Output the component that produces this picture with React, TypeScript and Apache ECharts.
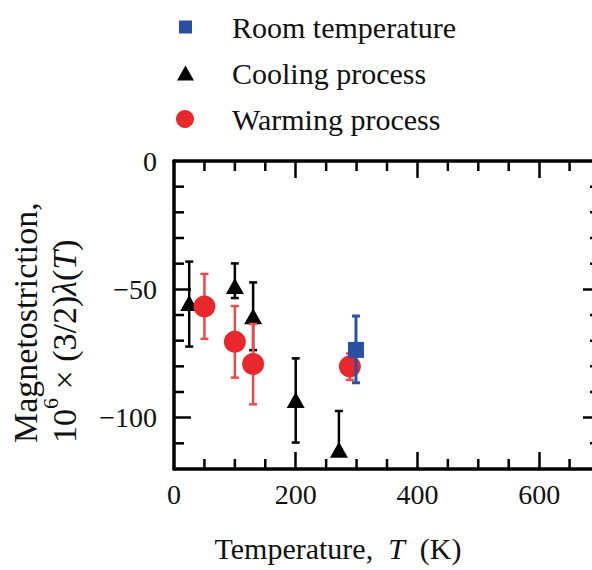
import React, { useEffect, useRef } from "react";
import * as echarts from "echarts";

// ---- data ----
const coolT = [25, 100, 130, 200, 271];
const coolV = [-55.3, -48.7, -60.5, -93.1, -112.5];
const coolHi = [-39.2, -39.9, -47.3, -76.9, -97.4];
const coolLo = [-72.3, -53.4, -73.7, -109.7, -112.5];

const warmT = [50, 100, 130, 289];
const warmV = [-56.7, -70.4, -79.1, -80.1];
const warmHi = [-44, -56.5, -63.5, -75];
const warmLo = [-69.3, -84.4, -94.8, -85.3];

const roomT = [299];
const roomV = [-73.6];
const roomHi = [-60.4];
const roomLo = [-86.4];

const xLabels = [0, 200, 400, 600];
const xMajor = [200, 400, 600];
const xMinor = [50, 100, 150, 250, 300, 350, 450, 500, 550, 650];
const yLabels = [0, -50, -100];
const yMajor = [-50, -100];
const yMinor = [-10, -20, -30, -40, -60, -70, -80, -90, -110];

const X_MIN = 0;
const X_MAX = 700;
const Y_MIN = -120;
const Y_MAX = 0;

const SERIF = '"Liberation Serif", "Times New Roman", serif';
const INK = "#111";
const MINOR_LEN = 10;
const MAJOR_LEN = 17;

function errSeries(name: string, data: number[][], color: string, width: number, cap: number, z: number) {
  return {
    type: "custom",
    name,
    z,
    data,
    encode: { x: 0, y: [1, 2] },
    renderItem: (_p: any, api: any) => {
      const x = api.value(0);
      const lo = api.value(1);
      const hi = api.value(2);
      const a = api.coord([x, hi]);
      const b = api.coord([x, lo]);
      const st = { stroke: color, lineWidth: width };
      return {
        type: "group",
        children: [
          { type: "line", shape: { x1: a[0], y1: a[1], x2: b[0], y2: b[1] }, style: st },
          { type: "line", shape: { x1: a[0] - cap, y1: a[1], x2: a[0] + cap, y2: a[1] }, style: st },
          { type: "line", shape: { x1: b[0] - cap, y1: b[1], x2: b[0] + cap, y2: b[1] }, style: st },
        ],
      };
    },
  };
}

// minor ticks on all four sides: one group per tick value, through the axes' scales
function minorTicks() {
  const data = [
    ...xMinor.map((v) => [v, 0, 0]),
    ...yMinor.map((v) => [0, v, 1]),
  ];
  return {
    type: "custom",
    name: "minor-ticks",
    z: 8,
    data,
    encode: { x: 0, y: 1 },
    renderItem: (_p: any, api: any) => {
      const kind = api.value(2);
      const st = { stroke: "#000", lineWidth: 2.5 };
      if (kind === 0) {
        const v = api.value(0);
        const b = api.coord([v, Y_MIN]);
        const t = api.coord([v, Y_MAX]);
        return {
          type: "group",
          children: [
            { type: "line", shape: { x1: b[0], y1: b[1], x2: b[0], y2: b[1] - MINOR_LEN }, style: st },
            { type: "line", shape: { x1: t[0], y1: t[1], x2: t[0], y2: t[1] + MINOR_LEN }, style: st },
          ],
        };
      }
      const v = api.value(1);
      const l = api.coord([X_MIN, v]);
      const r = api.coord([X_MAX, v]);
      return {
        type: "group",
        children: [
          { type: "line", shape: { x1: l[0], y1: l[1], x2: l[0] + MINOR_LEN, y2: l[1] }, style: st },
          { type: "line", shape: { x1: r[0], y1: r[1], x2: r[0] - MINOR_LEN, y2: r[1] }, style: st },
        ],
      };
    },
  };
}

function xAx(position: string, labels?: number[]) {
  return {
    type: "value",
    position,
    min: X_MIN,
    max: X_MAX,
    splitLine: { show: false },
    axisLine: { show: true, onZero: false, lineStyle: { color: "#000", width: 3.5 } },
    axisTick: { show: true, inside: true, length: MAJOR_LEN, customValues: xMajor, lineStyle: { color: "#000", width: 2.5 } },
    axisLabel: labels
      ? { show: true, customValues: labels, fontSize: 28, fontFamily: SERIF, color: INK, margin: 11 }
      : { show: false },
  };
}

function yAx(position: string, labels?: number[]) {
  return {
    type: "value",
    position,
    min: Y_MIN,
    max: Y_MAX,
    splitLine: { show: false },
    axisLine: { show: true, onZero: false, lineStyle: { color: "#000", width: 3.5 } },
    axisTick: { show: true, inside: true, length: MAJOR_LEN, customValues: yMajor, lineStyle: { color: "#000", width: 2.5 } },
    axisLabel: labels
      ? {
          show: true,
          customValues: labels,
          fontSize: 28,
          fontFamily: SERIF,
          color: INK,
          margin: 17,
          formatter: (v: number) => String(v).replace("-", "\u2212"),
        }
      : { show: false },
  };
}

export default function App() {
  const ref = useRef<HTMLDivElement>(null);
  useEffect(() => {
    if (!ref.current) return;
    const chart = echarts.init(ref.current, null, { renderer: "svg" });
    const legendText = (pad: number) => ({
      fontSize: 30,
      fontFamily: SERIF,
      color: INK,
      padding: [0, 0, 0, pad],
    });
    chart.setOption({
      animation: false,
      backgroundColor: "#fff",
      grid: { left: 174, top: 161, width: 426, height: 308, containLabel: false, outerBoundsMode: "none" },
      xAxis: [xAx("bottom", xLabels), xAx("top")],
      yAxis: [yAx("left", yLabels), yAx("right")],
      legend: [
        {
          left: 179, top: 12, padding: 0, orient: "vertical", selectedMode: false,
          itemWidth: 13, itemHeight: 13,
          data: [{ name: "Room temperature", icon: "rect" }],
          textStyle: legendText(35),
        },
        {
          left: 177, top: 58, padding: 0, orient: "vertical", selectedMode: false,
          itemWidth: 17, itemHeight: 15,
          data: [{ name: "Cooling process", icon: "triangle" }],
          textStyle: legendText(33),
        },
        {
          left: 176, top: 104, padding: 0, orient: "vertical", selectedMode: false,
          itemWidth: 18, itemHeight: 18,
          data: [{ name: "Warming process", icon: "circle" }],
          textStyle: legendText(33),
        },
      ],
      series: [
        errSeries("cool-err", coolT.map((t, i) => [t, coolLo[i], coolHi[i]]), "#000", 2.5, 4, 2),
        {
          type: "scatter", name: "Cooling process", z: 3,
          symbol: "triangle", symbolSize: [18, 16],
          itemStyle: { color: "#000", opacity: 1 },
          data: coolT.map((t, i) => [t, coolV[i]]),
        },
        errSeries("warm-err", warmT.map((t, i) => [t, warmLo[i], warmHi[i]]), "#ef4a4a", 2.5, 4, 4),
        {
          type: "scatter", name: "Warming process", z: 5,
          symbol: "circle", symbolSize: 22,
          itemStyle: { color: "#e8282c", opacity: 1 },
          data: warmT.map((t, i) => [t, warmV[i]]),
        },
        errSeries("room-err", roomT.map((t, i) => [t, roomLo[i], roomHi[i]]), "#2a50a3", 3, 4, 6),
        {
          type: "scatter", name: "Room temperature", z: 7,
          symbol: "rect", symbolSize: 16,
          itemStyle: { color: "#2a50a3", opacity: 1 },
          data: roomT.map((t, i) => [t, roomV[i]]),
        },
        minorTicks(),
      ],
      graphic: [
        {
          type: "text", x: 25, y: 443, rotation: Math.PI / 2,
          style: {
            text: "Magnetostriction,",
            font: `34px ${SERIF}`,
            fill: INK,
            align: "left", textAlign: "left",
            verticalAlign: "middle", textVerticalAlign: "middle",
          },
        },
        {
          type: "text", x: 64, y: 443, rotation: Math.PI / 2,
          style: {
            text: "{b|10}{sup|6}{b| \u00d7 (3/2)}{i|\u03bb}{b|(}{i|T}{b|)}",
            rich: {
              b: { fontSize: 34, fontFamily: SERIF, fill: INK, lineHeight: 50 },
              i: { fontSize: 34, fontFamily: SERIF, fontStyle: "italic", fill: INK, lineHeight: 50 },
              sup: { fontSize: 22, fontFamily: SERIF, fill: INK, verticalAlign: "top" },
            },
            fill: INK,
            align: "left", textAlign: "left",
            verticalAlign: "middle", textVerticalAlign: "middle",
          },
        },
        {
          type: "text", x: 338, y: 548,
          style: {
            text: "{a|Temperature,  }{i|T}{a|  (K)}",
            rich: {
              a: { fontSize: 30, fontFamily: SERIF, fill: INK },
              i: { fontSize: 30, fontFamily: SERIF, fontStyle: "italic", fill: INK },
            },
            fill: INK,
            align: "center", textAlign: "center",
            verticalAlign: "middle", textVerticalAlign: "middle",
          },
        },
      ],
    });
    return () => chart.dispose();
  }, []);
  return (
    <div
      ref={ref}
      style={{ position: "fixed", left: 0, top: 0, width: 592, height: 570, background: "#fff" }}
    />
  );
}
